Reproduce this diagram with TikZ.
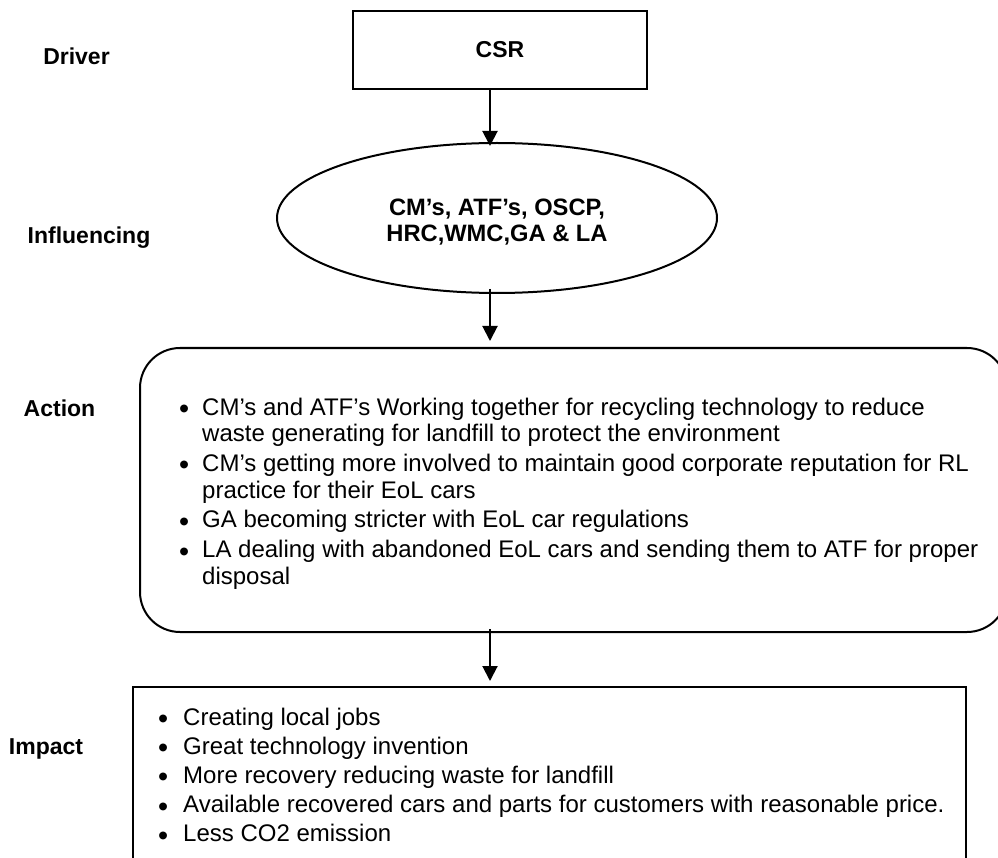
\documentclass[tikz,border=0pt]{standalone}
\usepackage{fontspec}
\setmainfont{Liberation Sans}
\usepackage{array}
\usepackage{graphicx}
\usetikzlibrary{shapes.geometric,arrows.meta}

\tikzset{
  frame/.style={draw, line width=2pt, inner sep=0pt},
  flow/.style={line width=2pt, -{Triangle[width=15pt,length=15pt]}},
  stage/.style={font=\bfseries\fontsize{23}{27}\selectfont, anchor=base, inner sep=0pt},
  headtext/.style={font=\bfseries\fontsize{23}{26}\selectfont, align=center},
  partytext/.style={font=\bfseries\fontsize{23.7}{26}\selectfont, align=center, inner sep=0pt},
  actlist/.style={font=\fontsize{24}{26.7}\selectfont, anchor=base west, inner sep=0pt},
  implist/.style={font=\fontsize{24}{29.2}\selectfont, anchor=base west, inner sep=0pt},
}
\newcommand{\dotmark}{\raisebox{-3.5pt}{\scalebox{1.2}{\textbullet}}}

\begin{document}
\begin{tikzpicture}[x=1pt, y=-1pt]
  \useasboundingbox (0,0) rectangle (998,858);
  \clip (0,0) rectangle (998,858);

  % stage labels on the left
  \node[stage] (driver)      at (76.5,64.5) {Driver};
  \node[stage] (influencing) at (89,243.5)  {Influencing};
  \node[stage] (action)      at (59.5,416.5) {Action};
  \node[stage] (impact)      at (46,754)    {Impact};

  % driver box
  \node[frame, minimum width=294pt, minimum height=78pt, headtext] (csr) at (500,50) {CSR};

  % influencing parties
  \node[frame, ellipse, minimum width=440pt, minimum height=150pt] (infl) at (497,218) {};
  \node[partytext] (infltext) at ([yshift=-4pt]infl.center)
    {CM’s, ATF’s, OSCP,\\HRC,WMC,GA \& LA};

  % action box (runs past the right edge)
  \node[frame, rounded corners=40pt, minimum width=867pt, minimum height=284pt] (act) at (573.5,490) {};
  \node[actlist] (acttext) at (179,415) {%
    \begin{tabular}[t]{@{}p{23pt}@{}l@{}}
      \dotmark & CM’s and ATF’s Working together for recycling technology to reduce\\
               & waste generating for landfill to protect the environment\\[3pt]
      \dotmark & CM’s getting more involved to maintain good corporate reputation for RL\\
               & practice for their EoL cars\\[3pt]
      \dotmark & GA becoming stricter with EoL car regulations\\[3pt]
      \dotmark & LA dealing with abandoned EoL cars and sending them to ATF for proper\\
               & disposal
    \end{tabular}};

  % impact box (runs past the bottom edge)
  \node[frame, minimum width=833pt, minimum height=193pt] (imp) at (549.5,783.5) {};
  \node[implist] (imptext) at (158,725) {%
    \begin{tabular}[t]{@{}p{25pt}@{}l@{}}
      \dotmark & Creating local jobs\\
      \dotmark & Great technology invention\\
      \dotmark & More recovery reducing waste for landfill\\
      \dotmark & Available recovered cars and parts for customers with reasonable price.\\
      \dotmark & Less CO2 emission
    \end{tabular}};

  % vertical flow arrows
  \coordinate (spine) at (490,0);
  \draw[flow, shorten >=-4pt] (spine |- csr.south) -- (spine |- infl.north);
  \draw[flow, shorten <=-5pt, shorten >=6pt] (spine |- infl.south) -- (spine |- act.north);
  \draw[flow, shorten <=-4pt, shorten >=5pt] (spine |- act.south) -- (spine |- imp.north);
\end{tikzpicture}
\end{document}
